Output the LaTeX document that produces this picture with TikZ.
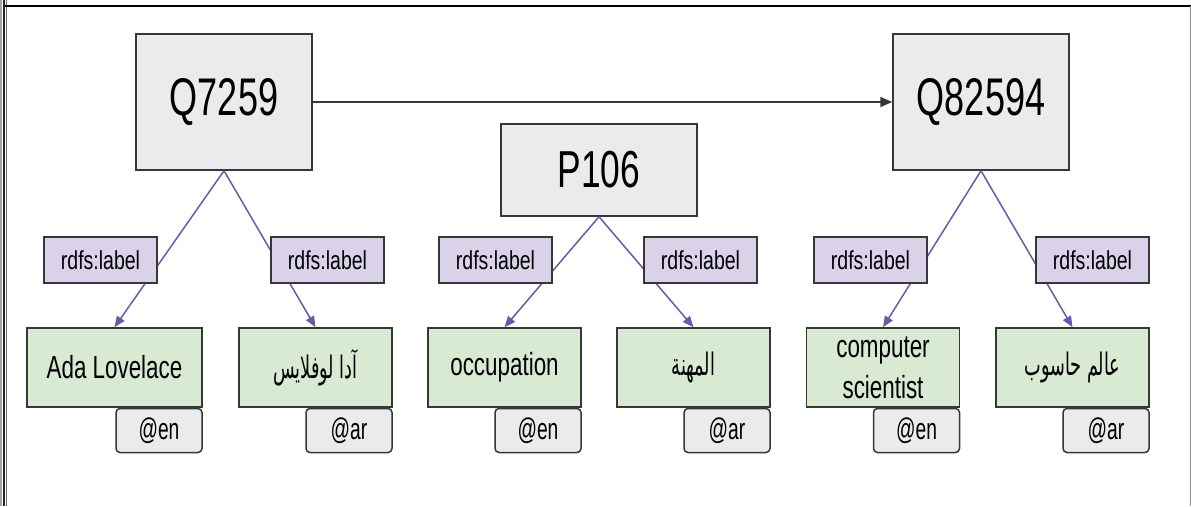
\documentclass[tikz,border=0pt]{standalone}
\usepackage{fontspec}
\setmainfont{Liberation Sans}
\newfontfamily\fbig[FakeStretch=0.68]{Liberation Sans}
\newfontfamily\fmid[FakeStretch=0.70]{Liberation Sans}
\newfontfamily\fsmall[FakeStretch=0.75]{Liberation Sans}
\newfontfamily\ftag[FakeStretch=0.64]{Liberation Sans}
\newfontfamily\arabicfont[Script=Arabic,FakeStretch=0.57]{DejaVu Sans}
\TeXXeTstate=1
\usetikzlibrary{arrows.meta}
\definecolor{boxgrey}{RGB}{233,235,236}
\definecolor{lav}{RGB}{217,210,233}
\definecolor{litgreen}{RGB}{217,234,211}
\definecolor{bordc}{RGB}{55,55,55}
\definecolor{edgec}{RGB}{108,88,170}
\begin{document}
\begin{tikzpicture}[x=1pt,y=-1pt,
  base/.style={draw=bordc, line width=1.5pt, inner sep=0pt, text=black},
  item/.style={base, fill=boxgrey, minimum width=176pt, minimum height=136pt, font=\fbig\fontsize{53}{60}\selectfont},
  prop/.style={base, fill=boxgrey, minimum width=196pt, minimum height=92pt, font=\fbig\fontsize{52}{60}\selectfont},
  lbl/.style={base, fill=lav, minimum width=113pt, minimum height=46pt, font=\fsmall\fontsize{26}{30}\selectfont},
  lit/.style={base, fill=litgreen, minimum width=153pt, minimum height=79pt, font=\fmid\fontsize{32}{41}\selectfont},
  tag/.style={base, fill=boxgrey, rounded corners=4pt, minimum width=86pt, minimum height=44pt, anchor=north east, font=\ftag\fontsize{30}{34}\selectfont},
  edge/.style={draw=edgec, line width=1.5pt, -{Triangle[length=11pt,width=9pt]}},
  harrow/.style={draw=bordc, line width=1.5pt, -{Triangle[length=12pt,width=10pt]}},
  ar/.style={font=\arabicfont\fontsize{31}{36}\selectfont}
]
\useasboundingbox (0,0) rectangle (1191,506);
% frame
\draw[black!35, line width=1.5pt] (1,0) -- (1,506);
\draw[black!85, line width=2pt] (4,0) -- (4,506);
\draw[black!55, line width=1.2pt] (6.5,0) -- (6.5,506);
\draw[black, line width=1.2pt] (5,6) -- (1191,6);
\draw[black!45, line width=1pt] (1190,6) -- (1190,506);

% main nodes
\node[item] (q1) at (224,102) {Q7259};
\node[item] (q2) at (981,102) {Q82594};
\node[prop] (p) at (599,170) {P106};

% literals
\node[lit, minimum width=175pt] (ada) at (114.5,367.5) {Ada Lovelace};
\node[lit, ar] (adaar) at (315.5,367.5) {\beginR آدا لوفلايس\endR};
\node[lit] (occ) at (504.5,367.5) {occupation};
\node[lit, ar] (occar) at (693.5,367.5) {\beginR المهنة\endR};
\node[lit] (cs) at (883,367.5) {\parbox[c][79pt][c]{150pt}{\centering computer\\scientist}};
\node[lit, ar] (csar) at (1072.5,367.5) {\beginR عالم حاسوب\endR};

% language tags
\node[tag] (t1) at (ada.south east) {@en};
\node[tag] (t2) at (adaar.south east) {@ar};
\node[tag] (t3) at (occ.south east) {@en};
\node[tag] (t4) at (occar.south east) {@ar};
\node[tag] (t5) at (cs.south east) {@en};
\node[tag] (t6) at (csar.south east) {@ar};

% edges
\draw[harrow] (q1.east) -- (q2.west);
\draw[edge] (q1.south) -- (ada.north);
\draw[edge] (q1.south) -- (adaar.north);
\draw[edge] (p.south) -- (occ.north);
\draw[edge] (p.south) -- (occar.north);
\draw[edge] (q2.south) -- (cs.north);
\draw[edge] (q2.south) -- (csar.north);

% rdfs:label boxes on top of edges
\node[lbl] (l1) at (100.5,260) {rdfs:label};
\node[lbl] (l2) at (327.5,260) {rdfs:label};
\node[lbl] (l3) at (495.5,260) {rdfs:label};
\node[lbl] (l4) at (700.5,260) {rdfs:label};
\node[lbl] (l5) at (870.5,260) {rdfs:label};
\node[lbl] (l6) at (1092.5,260) {rdfs:label};
\end{tikzpicture}
\end{document}
